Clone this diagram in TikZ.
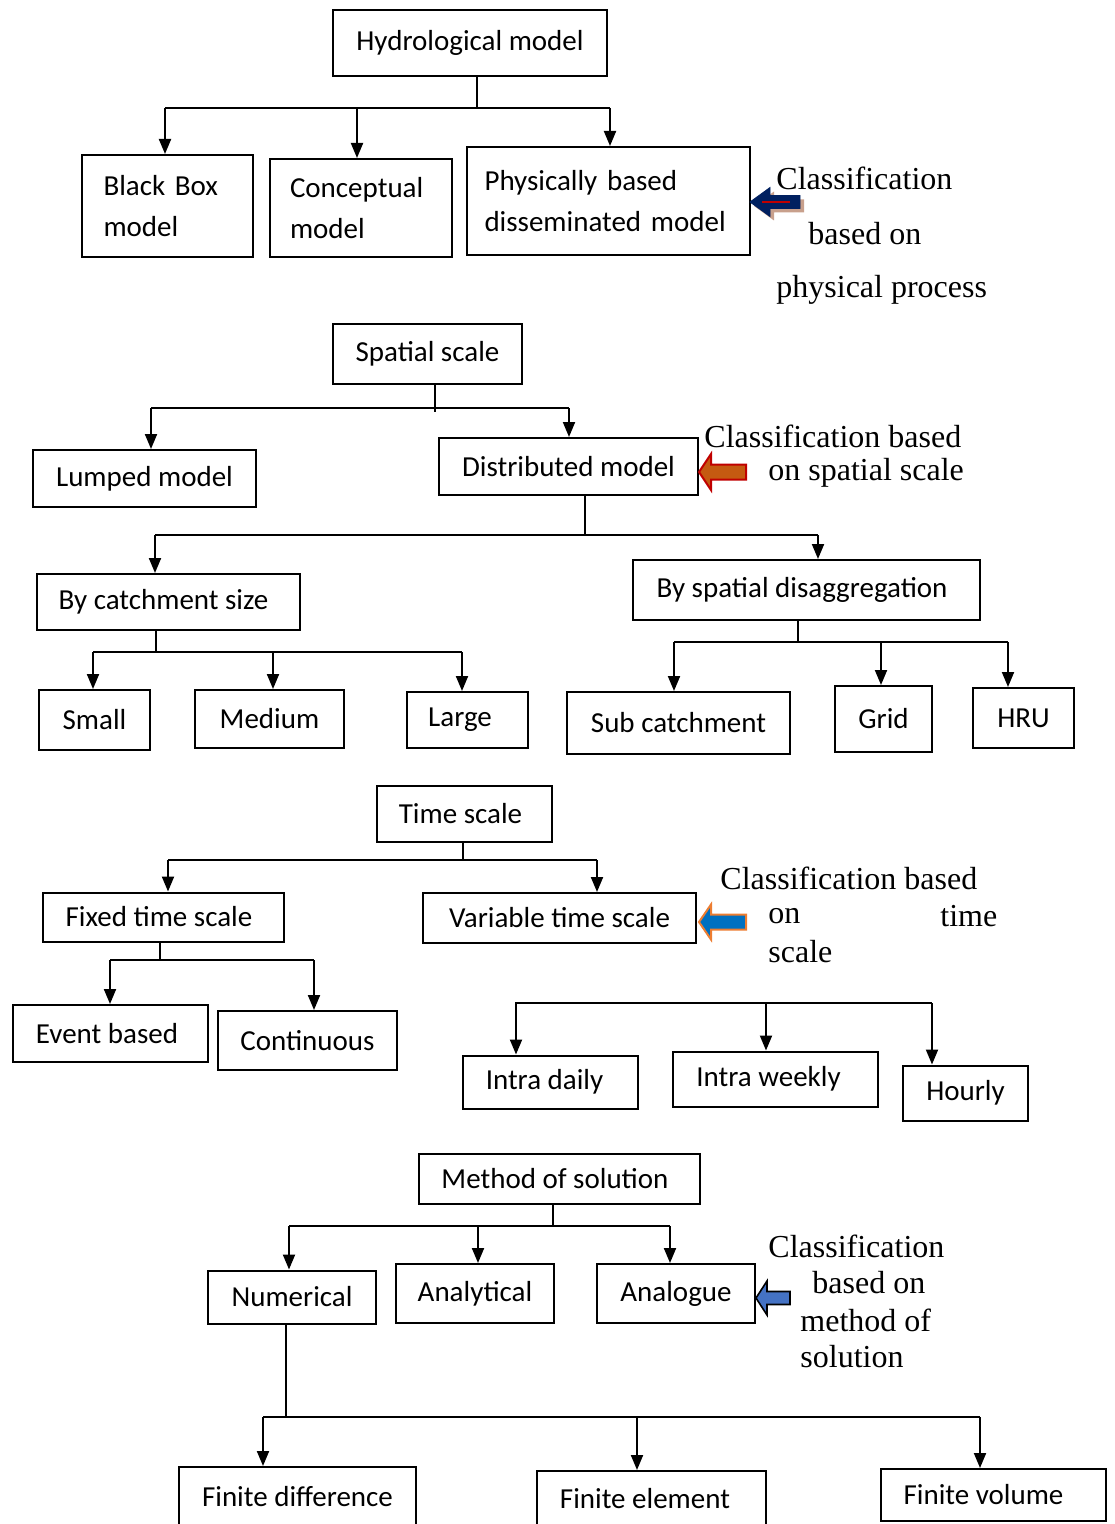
\documentclass[tikz,border=0pt]{standalone}
\usepackage{fontspec}
\setmainfont{Carlito}
\newfontfamily\timesfont{Liberation Serif}
\usetikzlibrary{arrows.meta}

\definecolor{navyfill}{RGB}{0,32,96}
\definecolor{shadowtan}{RGB}{200,160,140}
\definecolor{rustfill}{RGB}{197,90,17}
\definecolor{rustline}{RGB}{192,0,0}
\definecolor{bluefill}{RGB}{0,112,192}
\definecolor{orangeline}{RGB}{237,125,49}
\definecolor{lightblue}{RGB}{68,114,196}

\tikzset{
  box/.style 2 args={draw, line width=1pt, minimum width=#1*0.5pt, minimum height=#2*0.5pt,
    inner sep=0pt, font=\fontsize{14.5}{20.5}\selectfont},
  textleft/.style={execute at end node={\hspace*{#1}}},
  note/.style={anchor=west, inner sep=0pt, font=\timesfont\fontsize{16}{19}\selectfont},
  bus/.style={line width=1pt},
  arr/.style={line width=1pt, -{Triangle[length=7.5pt,width=6pt]}},
}

% block arrow pointing left: style, tip, head length, half head, half shaft, length
\newcommand{\blockarrow}[6]{%
  \draw[#1] #2 -- ++(#3,-#4) -- ++(0,#4-#5) -- ++(#6-#3,0) -- ++(0,2*#5)
    -- ++(#3-#6,0) -- ++(0,#4-#5) -- cycle;}

\begin{document}
\begin{tikzpicture}[x=0.5pt, y=-0.5pt]
  \useasboundingbox (0,0) rectangle (1114,1524);

  % physical process
  \node[box={274}{66}] (hydro) at (470,43) {Hydrological model};
  \node[box={171}{102}, text width=64pt, align=left] (blackbox) at (167.5,206) {Black Box\\model};
  \node[box={182}{98}, text width=71pt, align=left] (concept) at (361,208) {Conceptual\\model};
  \node[box={283}{108}, text width=124pt, align=left] (physical) at (608.5,201) {Physically based\\disseminated model};
  \coordinate (b1l) at (165,108);
  \coordinate (b1r) at (610,108);
  \draw[bus] (477,0 |- hydro.south) -- (477,0 |- b1l);
  \draw[bus] (b1l) -- (b1r);
  \foreach \x/\n in {165/blackbox, 357/concept, 610/physical}
    \draw[arr] (\x,0 |- b1l) -- (\x,0 |- \n.north);
  \blockarrow{fill=shadowtan, draw=none}{(754,206)}{20}{14.5}{6.5}{50}
  \blockarrow{fill=navyfill, draw=navyfill}{(750,202)}{20}{14.5}{6.5}{50}
  \draw[rustline, line width=1pt] (762,202) -- (790,202);
  \node[note] (cls1a) at (776,178) {Classification};
  \node[note] (cls1b) at (808,234) {based on};
  \node[note] (cls1c) at (776,290) {physical process};

  % spatial scale
  \node[box={189}{60}] (spatial) at (427.5,354) {Spatial scale};
  \node[box={223}{57}] (lumped) at (144.5,478.5) {Lumped model};
  \node[box={259}{57}] (distrib) at (568.5,466.5) {Distributed model};
  \node[box={263}{56}, textleft=5pt] (catch) at (168.5,602) {By catchment size};
  \node[box={347}{60}, textleft=4.5pt] (disagg) at (806.5,590) {By spatial disaggregation};
  \node[box={111}{60}] (small) at (94.5,720) {Small};
  \node[box={149}{58}] (medium) at (269.5,719) {Medium};
  \node[box={121}{56}, textleft=7.5pt] (large) at (467.5,720) {Large};
  \node[box={223}{62}] (subcatch) at (678.5,723) {Sub catchment};
  \node[box={97}{66}] (grid) at (883.5,719) {Grid};
  \node[box={101}{60}] (hru) at (1023.5,718) {HRU};
  \coordinate (b2l) at (151,408);
  \coordinate (b2r) at (569,408);
  \draw[bus] (435,0 |- spatial.south) -- (435,412);
  \draw[bus] (b2l) -- (b2r);
  \foreach \x/\n in {151/lumped, 569/distrib}
    \draw[arr] (\x,0 |- b2l) -- (\x,0 |- \n.north);
  \coordinate (b3l) at (155,535);
  \coordinate (b3r) at (818,535);
  \draw[bus] (585,0 |- distrib.south) -- (585,0 |- b3l);
  \draw[bus] (b3l) -- (b3r);
  \foreach \x/\n in {155/catch, 818/disagg}
    \draw[arr] (\x,0 |- b3l) -- (\x,0 |- \n.north);
  \coordinate (b4l) at (93,652);
  \coordinate (b4r) at (462,652);
  \draw[bus] (156,0 |- catch.south) -- (156,0 |- b4l);
  \draw[bus] (b4l) -- (b4r);
  \foreach \x/\n in {93/small, 273/medium, 462/large}
    \draw[arr] (\x,0 |- b4l) -- (\x,0 |- \n.north);
  \coordinate (b5l) at (674,642);
  \coordinate (b5r) at (1008,642);
  \draw[bus] (798,0 |- disagg.south) -- (798,0 |- b5l);
  \draw[bus] (b5l) -- (b5r);
  \foreach \x/\n in {674/subcatch, 881/grid, 1008/hru}
    \draw[arr] (\x,0 |- b5l) -- (\x,0 |- \n.north);
  \blockarrow{fill=rustfill, draw=rustline, line width=1pt}{(699,472)}{12}{18}{7.5}{47}
  \node[note] (cls2a) at (704,436) {Classification based};
  \node[note] (cls2b) at (768,473) {on spatial scale};

  % time scale
  \node[box={175}{56}, textleft=4pt] (time) at (464.5,814) {Time scale};
  \node[box={241}{49}, textleft=4.5pt] (fixed) at (163.5,917) {Fixed time scale};
  \node[box={273}{50}] (variable) at (559.5,918) {Variable time scale};
  \node[box={195}{57}, textleft=3.5pt] (event) at (110.5,1033.5) {Event based};
  \node[box={179}{59}] (contin) at (307.5,1040.5) {Continuous};
  \node[box={175}{53}, textleft=6pt] (intraday) at (550.5,1082) {Intra daily};
  \node[box={205}{55}, textleft=7pt] (intraweek) at (775.5,1079) {Intra weekly};
  \node[box={125}{55}] (hourly) at (965.5,1093) {Hourly};
  \coordinate (b6l) at (168,860);
  \coordinate (b6r) at (597,860);
  \draw[bus] (463,0 |- time.south) -- (463,0 |- b6l);
  \draw[bus] (b6l) -- (b6r);
  \foreach \x/\n in {168/fixed, 597/variable}
    \draw[arr] (\x,0 |- b6l) -- (\x,0 |- \n.north);
  \coordinate (b7l) at (110,960);
  \coordinate (b7r) at (314,960);
  \draw[bus] (160,0 |- fixed.south) -- (160,0 |- b7l);
  \draw[bus] (b7l) -- (b7r);
  \foreach \x/\n in {110/event, 314/contin}
    \draw[arr] (\x,0 |- b7l) -- (\x,0 |- \n.north);
  \coordinate (b8l) at (515,1003);
  \coordinate (b8r) at (932,1003);
  \draw[bus] (b8l) -- (b8r);
  \foreach \x/\n in {516/intraday, 766/intraweek, 932/hourly}
    \draw[arr] (\x,0 |- b8l) -- (\x,0 |- \n.north);
  \blockarrow{fill=bluefill, draw=orangeline, line width=1pt}{(699,922)}{12}{17.5}{7.5}{47}
  \node[note] (cls3a) at (720,878) {Classification based};
  \node[note] (cls3b) at (768,916) {on};
  \node[note] (cls3c) at (940,916) {time};
  \node[note] (cls3d) at (768,952) {scale};

  % method of solution
  \node[box={281}{50}, textleft=4.5pt] (method) at (559.5,1179) {Method of solution};
  \node[box={168}{53}] (numeric) at (292,1297) {Numerical};
  \node[box={158}{59}] (analytic) at (475,1293.5) {Analytical};
  \node[box={158}{59}] (analogue) at (676,1293.5) {Analogue};
  \node[box={237}{60}] (findiff) at (297.5,1497) {Finite difference};
  \node[box={229}{56}, textleft=6.5pt] (finelem) at (651.5,1499) {Finite element};
  \node[box={225}{52}, textleft=10pt] (finvol) at (993.5,1495) {Finite volume};
  \coordinate (b9l) at (289,1226);
  \coordinate (b9r) at (670,1226);
  \draw[bus] (553,0 |- method.south) -- (553,0 |- b9l);
  \draw[bus] (b9l) -- (b9r);
  \foreach \x/\n in {289/numeric, 478/analytic, 670/analogue}
    \draw[arr] (\x,0 |- b9l) -- (\x,0 |- \n.north);
  \coordinate (b10l) at (263,1417);
  \coordinate (b10r) at (980,1417);
  \draw[bus] (286,0 |- numeric.south) -- (286,0 |- b10l);
  \draw[bus] (b10l) -- (b10r);
  \foreach \x/\n in {263/findiff, 637/finelem, 980/finvol}
    \draw[arr] (\x,0 |- b10l) -- (\x,0 |- \n.north);
  \blockarrow{fill=lightblue, draw=black, line width=0.8pt}{(756,1298)}{11}{17}{6.5}{34}
  \node[note] (cls4a) at (768,1246) {Classification};
  \node[note] (cls4b) at (812,1283) {based on};
  \node[note] (cls4c) at (800,1320) {method of};
  \node[note] (cls4d) at (800,1357) {solution};
\end{tikzpicture}
\end{document}
